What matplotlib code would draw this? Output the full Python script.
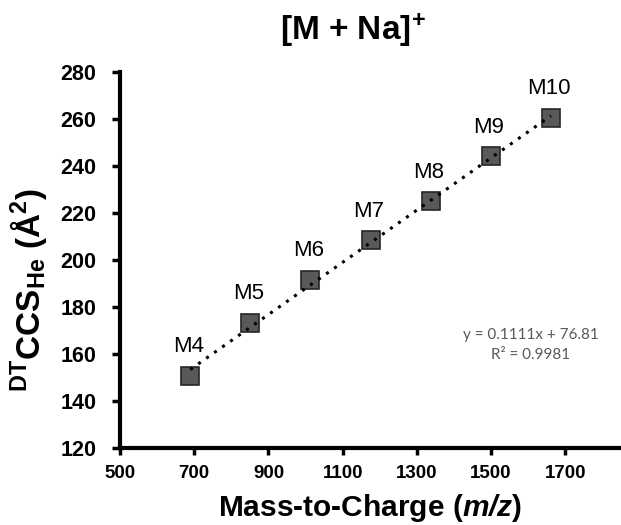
import matplotlib
matplotlib.use("Agg")
import matplotlib.pyplot as plt
import numpy as np

plt.rcParams['font.family'] = ['Liberation Sans', 'DejaVu Sans']
plt.rcParams['mathtext.fontset'] = 'custom'
plt.rcParams['mathtext.rm'] = 'Liberation Sans'
plt.rcParams['mathtext.bf'] = 'Liberation Sans:bold'
plt.rcParams['mathtext.it'] = 'Liberation Sans:italic'
plt.rcParams['mathtext.bfit'] = 'Liberation Sans:italic:bold'

labels = ["M4", "M5", "M6", "M7", "M8", "M9", "M10"]
mz = [689.2, 851.3, 1013.3, 1175.4, 1337.4, 1499.5, 1661.5]
ccs = [150.8, 173.4, 191.6, 208.3, 225.0, 244.2, 260.4]
slope = 0.1111
intercept = 76.81
r2 = 0.9981
xticks = [500, 700, 900, 1100, 1300, 1500, 1700]
yticks = [120, 140, 160, 180, 200, 220, 240, 260, 280]

W, H = 621, 525
fig = plt.figure(figsize=(W/100, H/100), dpi=100)
ax = fig.add_axes([120/W, 77/H, 1 - 120/W, (448-72)/H])

xfit = np.array([mz[0], mz[-1]])
ax.plot(xfit, slope * xfit + intercept, color='black', linestyle=(0, (1, 2.2)),
        linewidth=2.2, zorder=3)
ax.plot(mz, ccs, linestyle='none', marker='s', markersize=12.7,
        markerfacecolor='#595959', markeredgecolor='#262626', markeredgewidth=1.2,
        zorder=2)
for lab, x, y in zip(labels, mz, ccs):
    ax.annotate(lab, (x, y), xytext=(-1.5, 17), textcoords='offset points',
                ha='center', va='baseline', fontsize=16)

eq_font = dict(ha='center', va='center', fontsize=11, color='#595959',
               family=['Lato', 'DejaVu Sans'])
fig.text(531/W, 1 - 335/H, f"y = {slope}x + {intercept}", **eq_font)
fig.text(531/W, 1 - 355/H, f"R² = {r2}", **eq_font)

ax.set_xlim(500, 1850)
ax.set_ylim(120, 280)
ax.set_xticks(xticks)
ax.set_yticks(yticks)
ax.tick_params(axis='x', labelsize=13.5, width=2.5, length=5, pad=7, direction='out')
ax.tick_params(axis='y', labelsize=15.5, width=2.5, length=6, pad=11, direction='out')
for t in ax.get_xticklabels() + ax.get_yticklabels():
    t.set_fontweight('bold')
for s in ['top', 'right']:
    ax.spines[s].set_visible(False)
for s in ['left', 'bottom']:
    ax.spines[s].set_linewidth(3)

fig.text(370/W, 1 - 516/H, r"Mass-to-Charge ($\mathbfit{m/z}$)", ha='center',
         va='baseline', fontsize=21.5, fontweight='bold')
fig.text(29/W, 1 - 290/H, r"$^{\mathbf{DT}}$CCS$_{\mathbf{He}}$ (Å$^{\mathbf{2}}$)",
         ha='center', va='center', rotation=90, fontsize=24, fontweight='bold')
fig.text(352.5/W, 1 - 30/H, r"[M + Na]$^{\mathbf{+}}$", ha='center', va='center',
         fontsize=24, fontweight='bold')

fig.savefig("out.png", dpi=100)
